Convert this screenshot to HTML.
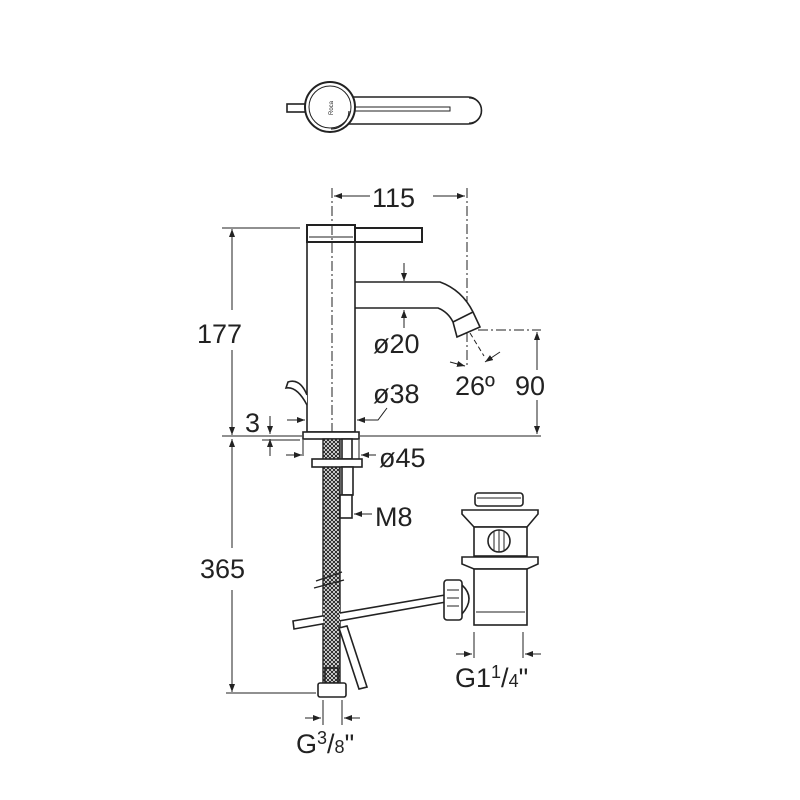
<!DOCTYPE html>
<html><head><style>html,body{margin:0;padding:0;background:#fff}svg{display:block}text{font-family:"Liberation Sans",sans-serif;fill:#222}</style></head>
<body>
<svg width="800" height="800" viewBox="0 0 800 800" xmlns="http://www.w3.org/2000/svg">
<defs>
<marker id="a" markerWidth="8" markerHeight="6" refX="8" refY="3" orient="auto" markerUnits="userSpaceOnUse"><path d="M0,0 L8,3 L0,6 z" fill="#222"/></marker>
<pattern id="mesh" width="4" height="4" patternUnits="userSpaceOnUse"><rect width="4" height="4" fill="#fff"/><path d="M0,0L4,4M4,0L0,4" stroke="#222" stroke-width="1"/></pattern>
</defs>
<g fill="none" stroke="#222" stroke-width="1.6">
<!-- top view -->
<rect x="287" y="104" width="20" height="8" fill="#fff"/>
<path d="M330,97 H468 A13.5,13.5 0 0 1 468,124 H330 Z" fill="#fff"/>
<path d="M469,98 A12,12 0 0 1 469,123" stroke-width="1"/>
<circle cx="330" cy="107" r="25" fill="#fff" stroke-width="2"/>
<circle cx="330" cy="107" r="21" stroke-width="1"/>
<rect x="355" y="107" width="95" height="4" stroke-width="1"/>
<path d="M349,111 A18,18 0 0 1 331,129" stroke-width="1.2"/>
<text x="333" y="115" font-size="6" transform="rotate(-90 333 115)" style="stroke:none">Roca</text>

<g stroke-width="1" stroke-dasharray="10,3,2,3">
<line x1="332" y1="188" x2="332" y2="478"/>
<line x1="467" y1="188" x2="467" y2="365"/>
<line x1="478" y1="330" x2="541" y2="330"/>
</g>
<g stroke-width="1">
<line x1="370" y1="196" x2="334" y2="196" marker-end="url(#a)"/>
<line x1="433" y1="196" x2="465" y2="196" marker-end="url(#a)"/>
<line x1="222" y1="228" x2="300" y2="228"/>
<line x1="232" y1="310" x2="232" y2="229" marker-end="url(#a)"/>
<line x1="232" y1="350" x2="232" y2="435" marker-end="url(#a)"/>
<line x1="222" y1="436" x2="302" y2="436"/>
<line x1="360" y1="436" x2="541" y2="436"/>
<line x1="232" y1="548" x2="232" y2="439" marker-end="url(#a)"/>
<line x1="232" y1="590" x2="232" y2="692" marker-end="url(#a)"/>
<line x1="226" y1="693" x2="316" y2="693"/>
<line x1="537" y1="370" x2="537" y2="332" marker-end="url(#a)"/>
<line x1="537" y1="400" x2="537" y2="434" marker-end="url(#a)"/>
<line x1="270" y1="416" x2="270" y2="434" marker-end="url(#a)"/>
<line x1="270" y1="456" x2="270" y2="439" marker-end="url(#a)"/>
<line x1="262" y1="440" x2="300" y2="440"/>
<line x1="404" y1="263" x2="404" y2="281" marker-end="url(#a)"/>
<line x1="404" y1="328" x2="404" y2="310" marker-end="url(#a)"/>
<line x1="287" y1="420" x2="305" y2="420" marker-end="url(#a)"/>
<path d="M387,408 L378,420 H358" />
<line x1="370" y1="420" x2="357" y2="420" marker-end="url(#a)"/>
<line x1="303" y1="440" x2="303" y2="456"/>
<line x1="359" y1="440" x2="359" y2="462"/>
<line x1="286" y1="455" x2="302" y2="455" marker-end="url(#a)"/>
<line x1="376" y1="455" x2="361" y2="455" marker-end="url(#a)"/>
<line x1="372" y1="514" x2="354" y2="514" marker-end="url(#a)"/>
<line x1="450" y1="362" x2="465" y2="366" marker-end="url(#a)"/>
<line x1="500" y1="352" x2="485" y2="362" marker-end="url(#a)"/>
<line x1="470" y1="333" x2="484" y2="356" stroke-dasharray="5,3"/>
<line x1="323" y1="700" x2="323" y2="725"/><line x1="342" y1="700" x2="342" y2="725"/>
<line x1="305" y1="718" x2="321" y2="718" marker-end="url(#a)"/>
<line x1="360" y1="718" x2="344" y2="718" marker-end="url(#a)"/>
<line x1="474" y1="632" x2="474" y2="658"/><line x1="523" y1="632" x2="523" y2="658"/>
<line x1="456" y1="654" x2="472" y2="654" marker-end="url(#a)"/>
<line x1="541" y1="654" x2="525" y2="654" marker-end="url(#a)"/>
</g>

<!-- faucet -->
<path d="M355,282 H440 Q462,290 473,312 L480,327 L457,337 L453,322 Q448,312 438,308 H355" fill="#fff"/>
<line x1="453" y1="322" x2="473" y2="312"/>
<path d="M355,282 Q348,295 355,308" stroke-width="1"/>
<rect x="307" y="242" width="48" height="190" fill="#fff"/>
<rect x="307" y="225" width="48" height="17" fill="#fff" stroke-width="2"/>
<line x1="309" y1="237" x2="353" y2="237" stroke-width="1"/>
<rect x="355" y="228" width="67" height="14" fill="#fff" stroke-width="2"/>
<rect x="303" y="432" width="56" height="7" fill="#fff"/>
<path d="M307,395 Q300,378 288,382 L286,388 Q297,386 307,405" fill="#fff"/>
<line x1="332" y1="225" x2="332" y2="432" stroke-width="1" stroke-dasharray="10,3,2,3"/>

<rect x="323" y="439" width="17" height="245" fill="url(#mesh)" stroke-width="1.4"/>
<rect x="342" y="439" width="10" height="20" fill="#fff"/>
<rect x="312" y="459" width="50" height="8" fill="#fff"/>
<rect x="342" y="467" width="11" height="28" fill="#fff"/>
<rect x="340" y="495" width="12" height="23" fill="#fff"/>
<path d="M316,581 L342,572 M314,588 L344,580" stroke-width="1.4"/>
<path d="M293,621 L445,595 L446,602 L294,629 Z" fill="#fff"/>
<path d="M339,628 L347,626 L367,687 L359,689 Z" fill="#fff"/>
<rect x="323" y="605" width="17" height="20" fill="url(#mesh)" stroke="none"/>
<rect x="325" y="668" width="13" height="15"/>
<rect x="318" y="683" width="28" height="14" rx="2" fill="#fff"/>
<rect x="475" y="493" width="48" height="13" rx="3" fill="#fff"/>
<line x1="477" y1="498" x2="521" y2="498" stroke-width="1"/>
<path d="M462,510 H538 V514 L527,527 H474 L462,514 Z" fill="#fff"/>
<rect x="474" y="527" width="53" height="29" fill="#fff"/>
<path d="M462,557 H538 V564 L527,569 H474 L462,564 Z" fill="#fff"/>
<rect x="474" y="569" width="53" height="56" fill="#fff"/>
<line x1="476" y1="612" x2="525" y2="612" stroke-width="1"/>
<circle cx="499" cy="541" r="11" fill="#fff"/>
<path d="M494,532V550M499,530V552M504,532V550" stroke-width="1"/>
<path d="M462,585 Q476,598 462,614" fill="#fff"/>
<rect x="444" y="580" width="18" height="40" rx="3" fill="#fff"/>
<path d="M447,590H459M447,598H459M447,606H459" stroke-width="1"/>
</g>
<g font-size="27">
<text x="372" y="207">115</text>
<text x="197" y="343">177</text>
<text x="200" y="578">365</text>
<text x="373" y="353">ø20</text>
<text x="373" y="403">ø38</text>
<text x="245" y="432">3</text>
<text x="455" y="395">26º</text>
<text x="515" y="395">90</text>
<text x="379" y="467">ø45</text>
<text x="375" y="526">M8</text>
<text x="455" y="687">G1<tspan font-size="18" dy="-9">1</tspan><tspan dy="9">/</tspan><tspan font-size="18">4</tspan>"</text>
<text x="296" y="753">G<tspan font-size="18" dy="-9">3</tspan><tspan dy="9">/</tspan><tspan font-size="18">8</tspan>"</text>
</g>
</svg>
</body></html>
